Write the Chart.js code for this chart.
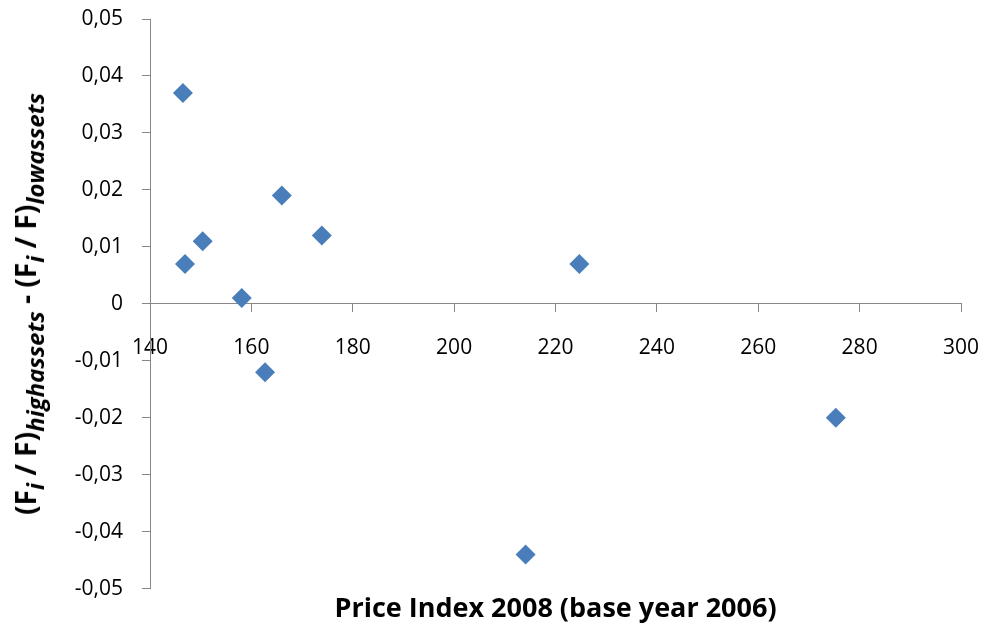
<!DOCTYPE html>
<html>
<head>
<meta charset="utf-8">
<script src="https://cdn.jsdelivr.net/npm/chart.js@4.4.1/dist/chart.umd.min.js"></script>
<style>
  html, body { margin: 0; padding: 0; background: #fff; }
  #wrap { position: relative; width: 986px; height: 634px; }
  #ytitle {
    position: absolute; left: 25px; top: 304px;
    transform: translate(-50%, -50%) rotate(-90deg);
    white-space: nowrap;
    font-family: "Open Sans", sans-serif; font-weight: bold; font-size: 28px; color: #000;
  }
  #ytitle sub { font-style: italic; font-size: 24px; vertical-align: -0.35em; line-height: 0; }
</style>
</head>
<body>
<div id="wrap">
  <canvas id="c" width="986" height="634"></canvas>
  <div id="ytitle">(F<sub>i</sub> / F)<sub>highassets</sub> - (F<sub>i</sub> / F)<sub>lowassets</sub></div>
</div>
<script>
const priceIndex = [146.5, 146.9, 150.4, 158.1, 162.7, 166.0, 173.9, 224.7, 214.1, 275.3];
const diffValues = [0.037, 0.007, 0.011, 0.001, -0.012, 0.019, 0.012, 0.007, -0.044, -0.020];
const xTicks = [140, 160, 180, 200, 220, 240, 260, 280, 300];
const yTicks = [-0.05, -0.04, -0.03, -0.02, -0.01, 0, 0.01, 0.02, 0.03, 0.04, 0.05];
const xTitle = 'Price Index 2008 (base year 2006)';

const points = priceIndex.map((x, i) => ({ x: x, y: diffValues[i] }));
const axisColor = '#878787';
const font = { family: '"Open Sans", sans-serif', size: 21 };

new Chart(document.getElementById('c'), {
  type: 'scatter',
  data: {
    datasets: [{
      data: points,
      pointStyle: 'rectRot',
      pointRadius: 10,
      pointHoverRadius: 10,
      backgroundColor: '#4A7EBB',
      borderColor: '#4A7EBB',
      borderWidth: 0
    }]
  },
  options: {
    responsive: false,
    animation: false,
    devicePixelRatio: 1,
    layout: { padding: { top: 19, right: 25, bottom: 0, left: 0 } },
    plugins: {
      legend: { display: false },
      tooltip: { enabled: false },
      title: {
        display: true, position: 'bottom', fullSize: false, text: xTitle, color: '#000',
        font: { family: '"Open Sans", sans-serif', size: 27, weight: 'bold' },
        padding: { top: 5, bottom: 8 }
      }
    },
    scales: {
      x: {
        type: 'linear', min: 140, max: 300, position: { y: 0 },
        afterBuildTicks: s => { s.ticks = xTicks.map(v => ({ value: v })); },
        afterFit: s => { s.height = 7; s.paddingLeft = 0; s.paddingRight = 0; },
        ticks: { font: font, color: '#000', padding: 24, maxRotation: 0 },
        grid: { drawOnChartArea: false, drawTicks: true, tickLength: 8, color: axisColor },
        border: { color: axisColor, width: 1 }
      },
      y: {
        type: 'linear', min: -0.05, max: 0.05, position: 'left',
        afterBuildTicks: s => { s.ticks = yTicks.map(v => ({ value: v })); },
        afterFit: s => { s.width = 150; s.paddingTop = 0; s.paddingBottom = 0; },
        ticks: {
          font: font, color: '#000', padding: 19,
          callback: v => Math.abs(v) < 1e-9 ? '0' : v.toFixed(2).replace('.', ',')
        },
        grid: { drawOnChartArea: false, drawTicks: true, tickLength: 8, color: axisColor },
        border: { color: axisColor, width: 1 }
      }
    }
  }
});
</script>
</body>
</html>
